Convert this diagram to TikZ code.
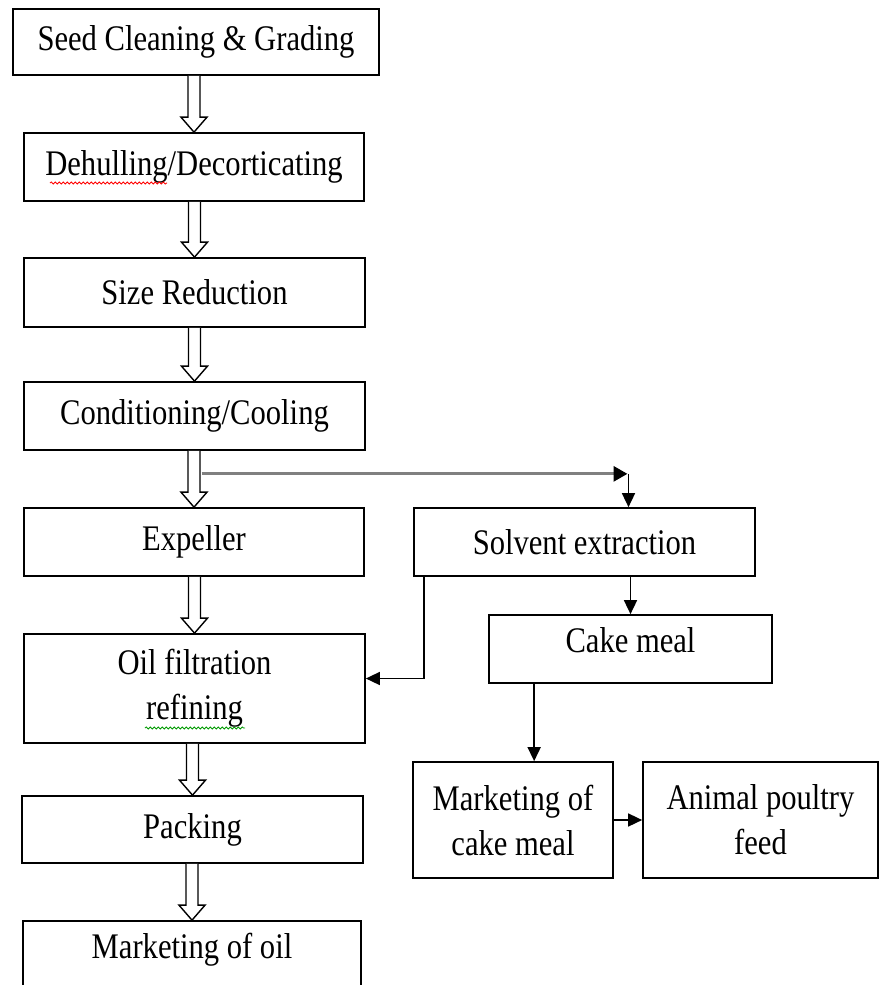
\documentclass[tikz,border=0pt]{standalone}
\usepackage{fontspec}
\setmainfont{Liberation Serif}[FakeStretch=0.85]
\usepackage{tikz}
\usetikzlibrary{arrows.meta,calc,positioning}
\usetikzlibrary{decorations.pathmorphing}
\tikzset{
	stage/.style = {draw,line width=1.7pt,rectangle,inner sep=0pt,align=center,font=\fontsize{36}{45}\selectfont},
	hollow/.style = {draw,line width=1.4pt,fill=white,line join=miter},
	link/.style = {draw,line width=1.6pt,-{Triangle[length=14pt,width=13pt]}},
	greylink/.style = {draw=gray,line width=3pt,-{Triangle[length=14pt,width=15pt,color=black]}},
	spell it/.style={decorate,decoration={snake,amplitude=1.1pt,segment length=4pt},line width=0.8pt},
}
% open block arrow from one stage down to the next
\newcommand{\blockarrow}[2]{%
	\draw[hollow] ($(#2.north |- #1.south)+(-6,0)$) -- ($(#2.north)+(-6,-15)$) -- ($(#2.north)+(-13,-15)$)
		-- (#2.north) -- ($(#2.north)+(13,-15)$) -- ($(#2.north)+(6,-15)$) -- ($(#2.north |- #1.south)+(6,0)$);
}

\begin{document}
\begin{tikzpicture}[x=1pt, y=-1pt, >=Triangle]
		\useasboundingbox (0,0) rectangle (883,985);
		% main line
		\node[stage, minimum width=366pt, minimum height=66pt] (seed) at (196,42) {Seed Cleaning \& Grading};
		\node[stage, minimum width=340pt, minimum height=68pt] (dehull) at (194,167) {Dehulling/Decorticating};
		\node[stage, minimum width=341pt, minimum height=69pt] (sizered) at (194.5,292.5) {Size Reduction};
		\node[stage, minimum width=341pt, minimum height=68pt] (cond) at (194.5,416) {Conditioning/Cooling};
		\node[stage, minimum width=340pt, minimum height=68pt] (expeller) at (194,542) {Expeller};
		\node[stage, minimum width=341pt, minimum height=109pt] (oilfilt) at (194.5,688.5) {Oil filtration\\refining};
		\node[stage, minimum width=341pt, minimum height=67pt] (packing) at (192.5,829.5) {Packing};
		\node[stage, minimum width=338pt, minimum height=72pt, text depth=23pt] (moil) at (192,957) {Marketing of oil};
		% side line
		\node[stage, minimum width=341pt, minimum height=68pt] (solvent) at (584.5,542) {Solvent extraction};
		\node[stage, minimum width=283pt, minimum height=68pt, text depth=18pt] (cake) at (630.5,649) {Cake meal};
		\node[stage, minimum width=200pt, minimum height=116pt] (mcake) at (513,820) {Marketing of\\cake meal};
		\node[stage, minimum width=235pt, minimum height=116pt] (animal) at (760.5,820) {Animal poultry\\feed};
		% open arrows
		\blockarrow{seed}{dehull}
		\blockarrow{dehull}{sizered}
		\blockarrow{sizered}{cond}
		\blockarrow{cond}{expeller}
		\blockarrow{expeller}{oilfilt}
		\blockarrow{oilfilt}{packing}
		\blockarrow{packing}{moil}
		% branch to solvent extraction
		\coordinate (split) at ($(cond.south)+(7,23)$);
		\coordinate (corner) at (cond.south -| cake.north);
		\coordinate (corner) at ($(corner)+(-2,23)$);
		\draw[greylink] (split) -- ($(corner)+(-1,0)$);
		\draw[link] (corner) -- (corner |- solvent.north);
		\draw[link] (cake.north |- solvent.south) -- (cake.north);
		\draw[link] ([xshift=11pt]solvent.south west) |- ([yshift=10pt]oilfilt.east);
		\draw[link] ([xshift=46pt]cake.south west) -- ([xshift=46pt]cake.south west |- mcake.north);
		\draw[link] (mcake.east) -- (animal.west);
		% spell-check marks
		\draw[red, spell it] (50,183) -- (167,183);
		\draw[green!60!black, spell it] (145,728) -- (245,728);
	\end{tikzpicture}
\end{document}
